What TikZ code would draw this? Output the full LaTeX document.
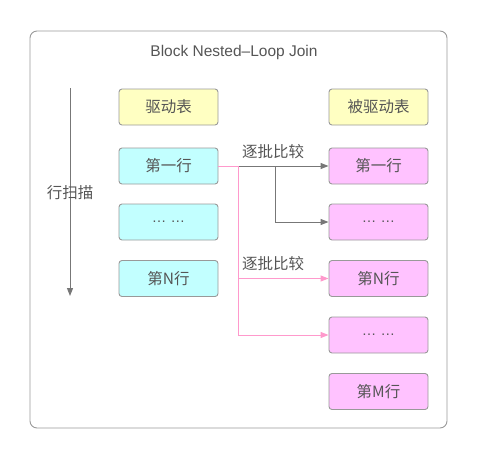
\documentclass[tikz,border=0pt]{standalone}
\usepackage{fontspec}
\setmainfont{Noto Sans CJK SC}
\newfontfamily\latinsans{Liberation Sans}
\usetikzlibrary{arrows.meta}
\definecolor{boxline}{HTML}{999999}
\definecolor{txt}{HTML}{555555}
\definecolor{yfill}{HTML}{FFFFC2}
\definecolor{cfill}{HTML}{C2FFFF}
\definecolor{pfill}{HTML}{FFC2FF}
\definecolor{pline}{HTML}{FF99CC}
\definecolor{gline}{HTML}{777777}
\tikzset{
  tbox/.style={rectangle, rounded corners=3pt, draw=boxline, line width=0.9pt,
    minimum width=99pt, minimum height=36pt, inner sep=0pt,
    font=\fontsize{15.5}{18}\selectfont, text=txt},
  ybox/.style={tbox, fill=yfill},
  cbox/.style={tbox, fill=cfill},
  pbox/.style={tbox, fill=pfill},
  gconn/.style={draw=gline, line width=1pt},
  garrow/.style={gconn, -{Triangle[length=8pt,width=6pt]}},
  pconn/.style={draw=pline, line width=1pt},
  parrow/.style={pconn, -{Triangle[length=8pt,width=6pt]}},
  lbl/.style={font=\fontsize{15.5}{18}\selectfont, text=txt, inner sep=0pt},
}
\newcommand{\dotsrow}{{\latinsans\fontsize{14.5}{16}\selectfont … …}}
\begin{document}
\begin{tikzpicture}[x=1pt,y=-1pt]
\useasboundingbox (0,0) rectangle (477,459);
\draw[boxline, line width=0.9pt, rounded corners=7pt] (30,31) rectangle (447,428);
\node[lbl, font=\latinsans\fontsize{15.5}{18}\selectfont] (title) at (234,52) {Block Nested{\textendash}Loop Join};

% scan arrow
\coordinate (s0) at (70,88);
\coordinate (s1) at (70,296);
\draw[garrow] (s0) -- (s1);
\node[lbl] (scan) at (70,193) {行扫描};

% left column
\node[ybox] (L0) at (168.5,107) {驱动表};
\node[cbox] (L1) at (168.5,166) {第一行};
\node[cbox] (L2) at (168.5,222) {\dotsrow};
\node[cbox] (LN) at (168.5,278.5) {第N行};

% right column
\node[ybox] (R0) at (378.5,107) {被驱动表};
\node[pbox] (R1) at (378.5,166) {第一行};
\node[pbox] (R2) at (378.5,222) {\dotsrow};
\node[pbox] (RN) at (378.5,278.5) {第N行};
\node[pbox] (R4) at (378.5,335) {\dotsrow};
\node[pbox] (RM) at (378.5,391.5) {第M行};

% gray connectors
\coordinate (g) at (275,166);
\draw[garrow] (L1.east) -- (R1.west);
\draw[garrow] (g) |- (R2.west);
\node[lbl] (c1) at (273,152) {逐批比较};

% pink connectors
\coordinate (p) at (238,166);
\draw[pconn] (L1.east) -- (p);
\draw[parrow] (p) |- (RN.west);
\draw[parrow] (p) |- (R4.west);
\node[lbl] (c2) at (273,264) {逐批比较};
\end{tikzpicture}
\end{document}
